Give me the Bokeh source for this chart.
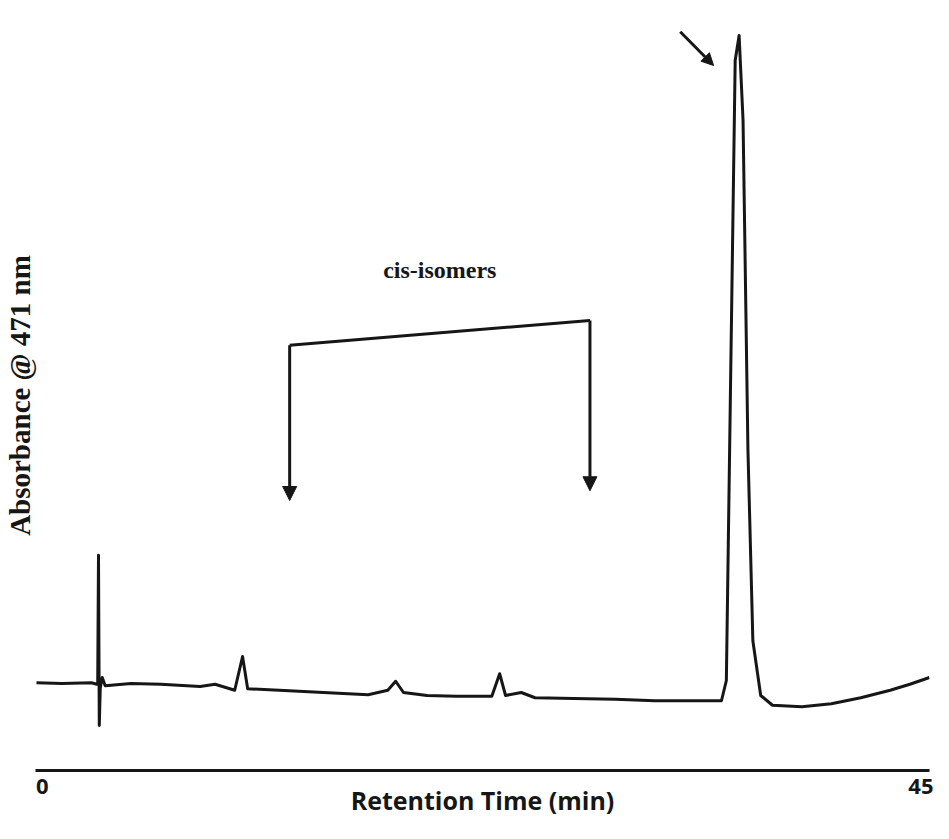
from bokeh.plotting import figure
from bokeh.models import Range1d, FixedTicker, Label, Arrow, NormalHead
from bokeh.embed import file_html
from bokeh.resources import INLINE

# Chromatogram trace (retention time in min, absorbance in arbitrary units)
time = [-0.3, 1.0, 2.5, 2.77, 2.82, 2.86, 2.90, 2.95, 3.05, 3.2, 4.52, 6.03, 8.04, 8.8,
        9.8, 10.2, 10.46, 12.07, 13.57, 15.08, 16.6, 17.6, 18.0, 18.4, 19.6, 21.1,
        22.9, 23.3, 23.6, 24.4, 25.1, 27.1, 29.2, 31.2, 33.2, 34.6, 34.85, 35.05,
        35.3, 35.5, 35.7, 35.95, 36.2, 36.6, 37.2, 38.7, 40.2, 41.7, 43.2, 44.2, 45.2]
absorbance = [11.7, 11.6, 11.7, 11.5, 11.6, 28.7, 6.0, 11.0, 12.4, 11.3, 11.6, 11.5, 11.2, 11.5,
              10.7, 15.2, 10.9, 10.7, 10.5, 10.3, 10.1, 10.7, 11.9, 10.4, 10.0, 9.9,
              9.9, 12.9, 10.0, 10.4, 9.7, 9.6, 9.5, 9.3, 9.3, 9.3, 12.0, 49.0,
              94.7, 98.0, 86.7, 42.7, 17.3, 10.0, 8.7, 8.5, 8.9, 9.7, 10.7, 11.5, 12.4]

# Axis ticks
tick_values = [0, 45]
tick_labels = ["0", "45"]

# Annotation: cis-isomers bracket (left end, right end) and main-peak pointer
bracket_x = [12.6, 27.9]
bracket_top = [56.7, 60.0]
bracket_bottom = [36.0, 37.3]
pointer_start = (32.5, 98.5)
pointer_end = (34.2, 94.0)

p = figure(width=933, height=823, x_range=Range1d(-0.35, 45.2), y_range=Range1d(0, 100),
           output_backend="svg", toolbar_location=None,
           min_border_left=33, min_border_right=4, min_border_top=20, min_border_bottom=53)
p.outline_line_color = None
p.grid.visible = False
p.background_fill_color = "white"

ink = "#161616"

p.line(time, absorbance, line_color=ink, line_width=3, line_join="round")

ya = p.yaxis[0]
ya.ticker = FixedTicker(ticks=[])
ya.axis_line_color = None
ya.major_tick_out = 0
ya.minor_tick_out = 0
ya.major_label_standoff = 0
ya.axis_label = "Absorbance @ 471 nm"
ya.axis_label_standoff = 0
ya.axis_label_text_font = "Liberation Serif"
ya.axis_label_text_font_style = "bold"
ya.axis_label_text_font_size = "29px"
ya.axis_label_text_color = ink

xa = p.xaxis[0]
xa.ticker = FixedTicker(ticks=tick_values)
xa.major_label_overrides = {v: s for v, s in zip(tick_values, tick_labels)}
xa.major_tick_out = 0
xa.major_tick_in = 0
xa.minor_tick_out = 0
xa.minor_tick_in = 0
xa.axis_line_width = 3
xa.axis_line_color = ink
xa.major_label_text_font = "Open Sans"
xa.major_label_text_font_style = "bold"
xa.major_label_text_font_size = "22px"
xa.major_label_text_color = ink
xa.major_label_standoff = 8
xa.axis_label = "Retention Time (min)"
xa.axis_label_text_font = "Open Sans"
xa.axis_label_text_font_style = "bold"
xa.axis_label_text_font_size = "25px"
xa.axis_label_text_color = ink
xa.axis_label_standoff = -14

# bracket
p.line(bracket_x, bracket_top, line_color=ink, line_width=3)
for bx, bt, bb in zip(bracket_x, bracket_top, bracket_bottom):
    p.add_layout(Arrow(end=NormalHead(size=14, fill_color=ink, line_color=ink),
                       x_start=bx, y_start=bt, x_end=bx, y_end=bb,
                       line_color=ink, line_width=3))
p.add_layout(Label(x=sum(bracket_x) / 2 + 0.0, y=max(bracket_top) + 6.8, text="cis-isomers",
                   text_align="center", text_baseline="middle",
                   text_font="Liberation Serif", text_font_style="bold",
                   text_font_size="24px", text_color=ink))

p.add_layout(Arrow(end=NormalHead(size=12, fill_color=ink, line_color=ink),
                   x_start=pointer_start[0], y_start=pointer_start[1],
                   x_end=pointer_end[0], y_end=pointer_end[1],
                   line_color=ink, line_width=3))

open("out.html", "w").write(file_html(p, INLINE))
